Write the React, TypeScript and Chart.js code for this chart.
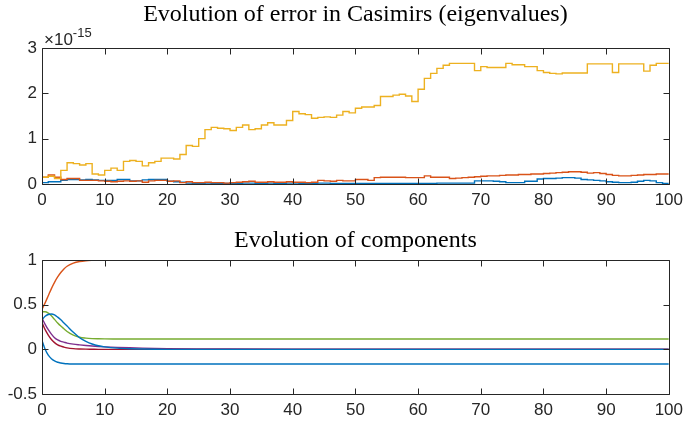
import React, { useEffect, useRef } from "react";
import { Chart, registerables } from "chart.js";
Chart.register(...registerables);

// ---------- Top plot: error in Casimirs (units of 1e-15), stairs on integer steps 0..100 ----------
const EXPONENT = -15;
const STEP_X = Array.from({ length: 101 }, (_, i) => i);
const ERR_YELLOW = [
  0.15, 0.17, 0.12, 0.3, 0.47, 0.45, 0.42, 0.45, 0.22, 0.2,
  0.3, 0.35, 0.3, 0.5, 0.52, 0.5, 0.4, 0.47, 0.5, 0.57,
  0.57, 0.55, 0.65, 0.85, 0.83, 1.0, 1.2, 1.25, 1.23, 1.22,
  1.18, 1.25, 1.3, 1.2, 1.22, 1.3, 1.35, 1.3, 1.3, 1.4,
  1.6, 1.55, 1.53, 1.45, 1.47, 1.48, 1.47, 1.52, 1.6, 1.57,
  1.67, 1.7, 1.7, 1.73, 1.93, 1.93, 1.96, 1.98, 1.94, 1.82,
  2.09, 2.33, 2.44, 2.55, 2.62, 2.66, 2.66, 2.66, 2.66, 2.5,
  2.59, 2.57, 2.57, 2.57, 2.66, 2.63, 2.63, 2.59, 2.59, 2.5,
  2.46, 2.44, 2.43, 2.45, 2.45, 2.45, 2.45, 2.65, 2.65, 2.65,
  2.65, 2.46, 2.65, 2.65, 2.65, 2.65, 2.49, 2.62, 2.66, 2.66,
  2.66,
];
const ERR_ORANGE = [
  0.15, 0.2, 0.15, 0.1, 0.12, 0.12, 0.08, 0.08, 0.08, 0.07,
  0.06, 0.05, 0.06, 0.07, 0.06, 0.07, 0.04, 0.07, 0.08, 0.08,
  0.06, 0.07, 0.03, 0.05, 0.03, 0.03, 0.04, 0.03, 0.03, 0.02,
  0.03, 0.04, 0.05, 0.06, 0.04, 0.04, 0.05, 0.04, 0.04, 0.05,
  0.04, 0.04, 0.03, 0.04, 0.08, 0.07, 0.06, 0.08, 0.07, 0.07,
  0.1, 0.1, 0.08, 0.14, 0.15, 0.15, 0.15, 0.15, 0.14, 0.14,
  0.14, 0.18, 0.15, 0.15, 0.15, 0.12, 0.13, 0.14, 0.15, 0.16,
  0.17, 0.18, 0.18, 0.19, 0.2, 0.2, 0.21, 0.21, 0.22, 0.22,
  0.23, 0.24, 0.25, 0.26, 0.27, 0.27, 0.26, 0.24, 0.25, 0.23,
  0.21, 0.19, 0.18, 0.18, 0.19, 0.2, 0.21, 0.21, 0.22, 0.22,
  0.22,
];
const ERR_BLUE = [
  0.03, 0.05, 0.05, 0.08, 0.1, 0.1, 0.09, 0.1, 0.09, 0.08,
  0.08, 0.08, 0.1, 0.1, 0.07, 0.07, 0.09, 0.1, 0.1, 0.1,
  0.06, 0.05, 0.04, 0.02, 0.01, 0.01, 0.02, 0.01, 0.01, 0.01,
  0.01, 0.01, 0.02, 0.02, 0.01, 0.01, 0.02, 0.01, 0.01, 0.02,
  0.02, 0.01, 0.01, 0.01, 0.02, 0.02, 0.01, 0.01, 0.01, 0.01,
  0.01, 0.01, 0.01, 0.01, 0.01, 0.01, 0.01, 0.01, 0.01, 0.01,
  0.01, 0.01, 0.01, 0.02, 0.02, 0.02, 0.02, 0.02, 0.02, 0.07,
  0.07, 0.07, 0.06, 0.05, 0.03, 0.03, 0.03, 0.06, 0.06, 0.11,
  0.12, 0.12, 0.13, 0.14, 0.14, 0.13, 0.1, 0.09, 0.08, 0.07,
  0.05, 0.04, 0.03, 0.03, 0.04, 0.06, 0.08, 0.07, 0.03, 0.01,
  0.01,
];
const TOP_X_TICKS = [0, 10, 20, 30, 40, 50, 60, 70, 80, 90, 100];
const TOP_Y_TICKS = [0, 1, 2, 3];

// ---------- Bottom plot: evolution of components ----------
const COMP_X = [0, 0.5, 1, 1.5, 2, 2.5, 3, 3.5, 4, 5, 6, 7, 8, 9, 10, 12, 14, 16, 18, 20, 25, 30, 40, 50, 60, 70, 80, 90, 100];
const COMP_ORANGE = [0.45, 0.52, 0.6, 0.68, 0.75, 0.81, 0.86, 0.9, 0.93, 0.965, 0.983, 0.992, 0.996, 0.998, 1, 1, 1, 1, 1, 1, 1, 1, 1, 1, 1, 1, 1, 1, 1];
const COMP_GREEN = [0.42, 0.42, 0.405, 0.375, 0.335, 0.295, 0.26, 0.23, 0.2, 0.16, 0.135, 0.125, 0.12, 0.118, 0.117, 0.116, 0.115, 0.115, 0.115, 0.115, 0.115, 0.115, 0.115, 0.115, 0.115, 0.115, 0.115, 0.115, 0.115];
const COMP_BLUE_BUMP = [0.33, 0.37, 0.39, 0.395, 0.385, 0.36, 0.33, 0.295, 0.26, 0.19, 0.13, 0.09, 0.06, 0.04, 0.028, 0.013, 0.006, 0.003, 0.001, 0, 0, 0, 0, 0, 0, 0, 0, 0, 0];
const COMP_PURPLE = [0.35, 0.28, 0.22, 0.17, 0.13, 0.105, 0.09, 0.08, 0.07, 0.058, 0.05, 0.043, 0.037, 0.032, 0.028, 0.022, 0.017, 0.013, 0.01, 0.008, 0.005, 0.003, 0.002, 0.002, 0.002, 0.002, 0.002, 0.002, 0.002];
const COMP_DARKRED = [0.3, 0.22, 0.16, 0.11, 0.075, 0.05, 0.035, 0.025, 0.017, 0.008, 0.004, 0.002, 0.001, 0, 0, 0, 0, 0, 0, 0, 0, 0, 0, 0, 0, 0, 0, 0, 0];
const COMP_BLUE_LOW = [0.1, 0.0, -0.065, -0.105, -0.13, -0.145, -0.153, -0.158, -0.161, -0.164, -0.165, -0.165, -0.165, -0.165, -0.165, -0.165, -0.165, -0.165, -0.165, -0.165, -0.165, -0.165, -0.165, -0.165, -0.165, -0.165, -0.165, -0.165, -0.165];
const BOT_X_TICKS = [0, 10, 20, 30, 40, 50, 60, 70, 80, 90, 100];
const BOT_Y_TICKS = [-0.5, 0, 0.5, 1];

const TITLE_TOP = "Evolution of error in Casimirs (eigenvalues)";
const TITLE_BOTTOM = "Evolution of components";

const C_BLUE = "#0072BD";
const C_ORANGE = "#D95319";
const C_YELLOW = "#EDB120";
const C_PURPLE = "#7E2F8E";
const C_GREEN = "#77AC30";
const C_DARKRED = "#A2142F";
const AXIS_COLOR = "#262626";
const TICK_FONT = { family: "'Liberation Sans', Arial, sans-serif", size: 17 };
const TITLE_FONT = "24px 'Liberation Serif', 'Times New Roman', serif";

const W = 689;
const H = 211;

function pts(xs: number[], ys: number[]) {
  return xs.map((x, i) => ({ x, y: ys[i] }));
}

function makeFrame(tickLen: number) {
  return {
    id: "matlabFrame",
    afterDatasetsDraw(chart: any) {
      const { ctx, chartArea, scales } = chart;
      const { left, right, top, bottom } = chartArea;
      ctx.save();
      ctx.strokeStyle = AXIS_COLOR;
      ctx.lineWidth = 1;
      ctx.beginPath();
      const l = Math.round(left) + 0.5;
      const r = Math.round(right) + 0.5;
      const t = Math.round(top) + 0.5;
      const b = Math.round(bottom) + 0.5;
      ctx.rect(l, t, r - l, b - t);
      scales.x.ticks.forEach((tk: any) => {
        const px = Math.round(scales.x.getPixelForValue(tk.value)) + 0.5;
        ctx.moveTo(px, b);
        ctx.lineTo(px, b - tickLen);
        ctx.moveTo(px, t);
        ctx.lineTo(px, t + tickLen);
      });
      scales.y.ticks.forEach((tk: any) => {
        const py = Math.round(scales.y.getPixelForValue(tk.value)) + 0.5;
        ctx.moveTo(l, py);
        ctx.lineTo(l + tickLen, py);
        ctx.moveTo(r, py);
        ctx.lineTo(r - tickLen, py);
      });
      ctx.stroke();
      ctx.restore();
    },
  };
}

function makeTitle(text: string, cy: number) {
  return {
    id: "matlabTitle",
    afterDraw(chart: any) {
      const { ctx, chartArea } = chart;
      ctx.save();
      ctx.font = TITLE_FONT;
      ctx.fillStyle = "#000000";
      ctx.textAlign = "center";
      ctx.textBaseline = "middle";
      ctx.fillText(text, (chartArea.left + chartArea.right) / 2, cy);
      ctx.restore();
    },
  };
}

const exponentPlugin = {
  id: "exponentLabel",
  afterDraw(chart: any) {
    const { ctx, chartArea } = chart;
    ctx.save();
    ctx.fillStyle = AXIS_COLOR;
    ctx.textAlign = "left";
    ctx.textBaseline = "alphabetic";
    ctx.font = "17px 'Liberation Sans', Arial, sans-serif";
    const base = "\u00d710";
    const x0 = chartArea.left + 2;
    ctx.fillText(base, x0, 45);
    const w = ctx.measureText(base).width;
    ctx.font = "13px 'Liberation Sans', Arial, sans-serif";
    ctx.fillText(String(EXPONENT), x0 + w, 37);
    ctx.restore();
  },
};

function baseOptions(xTicks: number[], yTicks: number[], yMin: number, yMax: number, padTop: number, xHeight: number) {
  return {
    responsive: false,
    animation: false as const,
    events: [],
    layout: { padding: { top: padTop, right: 17, left: 0, bottom: 0 } },
    plugins: { legend: { display: false }, title: { display: false }, tooltip: { enabled: false } },
    elements: { point: { radius: 0 }, line: { borderWidth: 1.4 } },
    scales: {
      x: {
        type: "linear" as const,
        min: xTicks[0],
        max: xTicks[xTicks.length - 1],
        grid: { display: false, drawTicks: false },
        border: { display: false },
        afterBuildTicks: (s: any) => { s.ticks = xTicks.map((v) => ({ value: v })); },
        afterFit: (s: any) => { s.height = xHeight; },
        ticks: { color: AXIS_COLOR, font: TICK_FONT, padding: 6, maxRotation: 0, autoSkip: false, callback: (v: any) => String(v) },
      },
      y: {
        type: "linear" as const,
        min: yMin,
        max: yMax,
        grid: { display: false, drawTicks: false },
        border: { display: false },
        afterBuildTicks: (s: any) => { s.ticks = yTicks.map((v) => ({ value: v })); },
        afterFit: (s: any) => { s.width = 42; },
        ticks: { color: AXIS_COLOR, font: TICK_FONT, padding: 5, autoSkip: false, callback: (v: any) => String(v) },
      },
    },
  };
}

export default function App() {
  const topRef = useRef<HTMLCanvasElement | null>(null);
  const botRef = useRef<HTMLCanvasElement | null>(null);

  useEffect(() => {
    const topChart = new Chart(topRef.current as HTMLCanvasElement, {
      type: "line",
      data: {
        datasets: [
          { data: pts(STEP_X, ERR_YELLOW), borderColor: C_YELLOW, stepped: "before", fill: false },
          { data: pts(STEP_X, ERR_ORANGE), borderColor: C_ORANGE, stepped: "before", fill: false },
          { data: pts(STEP_X, ERR_BLUE), borderColor: C_BLUE, stepped: "before", fill: false },
        ],
      },
      options: baseOptions(TOP_X_TICKS, TOP_Y_TICKS, 0, 3, 48, 27) as any,
      plugins: [makeFrame(6), makeTitle(TITLE_TOP, 15), exponentPlugin],
    });
    const mono = { cubicInterpolationMode: "monotone" as const, fill: false };
    const botChart = new Chart(botRef.current as HTMLCanvasElement, {
      type: "line",
      data: {
        datasets: [
          { data: pts(COMP_X, COMP_BLUE_BUMP), borderColor: C_BLUE, ...mono },
          { data: pts(COMP_X, COMP_DARKRED), borderColor: C_DARKRED, ...mono },
          { data: pts(COMP_X, COMP_GREEN), borderColor: C_GREEN, ...mono },
          { data: pts(COMP_X, COMP_PURPLE), borderColor: C_PURPLE, ...mono },
          { data: pts(COMP_X, COMP_ORANGE), borderColor: C_ORANGE, ...mono },
          { data: pts(COMP_X, COMP_BLUE_LOW), borderColor: C_BLUE, ...mono },
        ],
      },
      options: baseOptions(BOT_X_TICKS, BOT_Y_TICKS, -0.5, 1, 49, 28) as any,
      plugins: [makeFrame(6), makeTitle(TITLE_BOTTOM, 30)],
    });
    return () => {
      topChart.destroy();
      botChart.destroy();
    };
  }, []);

  return (
    <div style={{ position: "absolute", left: 0, top: 0, width: W, height: 2 * H, background: "#ffffff" }}>
      <canvas ref={topRef} width={W} height={H} style={{ display: "block", width: W, height: H }} />
      <canvas ref={botRef} width={W} height={H} style={{ display: "block", width: W, height: H }} />
    </div>
  );
}
